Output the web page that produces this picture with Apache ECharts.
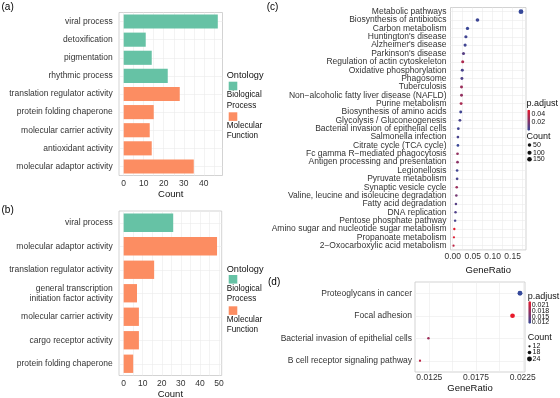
<!DOCTYPE html>
<html>
<head>
<meta charset="utf-8">
<script src="https://cdn.jsdelivr.net/npm/echarts@6/dist/echarts.min.js"></script>
<style>
html, body { margin: 0; padding: 0; background: #fff; }
#main { width: 560px; height: 398px; }
</style>
</head>
<body>
<div id="main"></div>
<script>
// (a) GO terms, counts and ontology
var termsA = ['viral process', 'detoxification', 'pigmentation', 'rhythmic process',
  'translation regulator activity', 'protein folding chaperone', 'molecular carrier activity',
  'antioxidant activity', 'molecular adaptor activity']
var countsA = [47, 11, 14, 22, 28, 15, 13, 14, 35]
var ontologyA = ['BP', 'BP', 'BP', 'BP', 'MF', 'MF', 'MF', 'MF', 'MF']
var labelsA = [0, 10, 20, 30, 40]
var ticksA = [0, 5, 10, 15, 20, 25, 30, 35, 40, 45]

// (b)
var termsB = ['viral process', 'molecular adaptor activity', 'translation regulator activity',
  'general transcription\ninitiation factor activity', 'molecular carrier activity',
  'cargo receptor activity', 'protein folding chaperone']
var countsB = [26, 49, 16, 7, 8, 8, 5]
var ontologyB = ['BP', 'MF', 'MF', 'MF', 'MF', 'MF', 'MF']
var labelsB = [0, 10, 20, 30, 40, 50]
var ticksB = [0, 5, 10, 15, 20, 25, 30, 35, 40, 45, 50]

// (c) KEGG pathways
var keggTerms = ['Metabolic pathways', 'Biosynthesis of antibiotics', 'Carbon metabolism',
  "Huntington's disease", "Alzheimer's disease", "Parkinson's disease",
  'Regulation of actin cytoskeleton', 'Oxidative phosphorylation', 'Phagosome', 'Tuberculosis',
  'Non\u2212alcoholic fatty liver disease (NAFLD)', 'Purine metabolism',
  'Biosynthesis of amino acids', 'Glycolysis / Gluconeogenesis',
  'Bacterial invasion of epithelial cells', 'Salmonella infection', 'Citrate cycle (TCA cycle)',
  'Fc gamma R\u2212mediated phagocytosis', 'Antigen processing and presentation', 'Legionellosis',
  'Pyruvate metabolism', 'Synaptic vesicle cycle', 'Valine, leucine and isoleucine degradation',
  'Fatty acid degradation', 'DNA replication', 'Pentose phosphate pathway',
  'Amino sugar and nucleotide sugar metabolism', 'Propanoate metabolism',
  '2\u2212Oxocarboxylic acid metabolism']
var keggRatio = [0.171, 0.062, 0.037, 0.033, 0.031, 0.027, 0.025, 0.024, 0.023, 0.022,
  0.022, 0.021, 0.020, 0.018, 0.014, 0.013, 0.013, 0.012, 0.012, 0.011,
  0.011, 0.010, 0.009, 0.008, 0.007, 0.006, 0.004, 0.003, 0.002]
var keggCount = [171, 62, 37, 33, 31, 27, 25, 24, 23, 22, 22, 21, 20, 18, 14, 13, 13, 12, 12, 11,
  11, 10, 9, 8, 7, 6, 4, 3, 2]
var keggPadj = [0.003, 0.005, 0.004, 0.006, 0.006, 0.012, 0.035, 0.008, 0.010, 0.030,
  0.028, 0.034, 0.006, 0.008, 0.006, 0.008, 0.004, 0.028, 0.026, 0.006,
  0.008, 0.030, 0.020, 0.012, 0.010, 0.008, 0.050, 0.048, 0.040]
var labelsC = [0, 0.05, 0.10, 0.15]
var ticksC = [0, 0.025, 0.05, 0.075, 0.10, 0.125, 0.15, 0.175]

// (d)
var termsD = ['Proteoglycans in cancer', 'Focal adhesion', 'Bacterial invasion of epithelial cells',
  'B cell receptor signaling pathway']
var ratioD = [0.0222, 0.0214, 0.0124, 0.0115]
var countD = [24, 23, 13, 12]
var padjD = [0.0113, 0.0227, 0.0180, 0.0200]
var labelsD = [0.0125, 0.0175, 0.0225]
var ticksD = [0.0125, 0.015, 0.0175, 0.02, 0.0225]

var FONT = "'Liberation Sans', Arial, sans-serif"
var LABEL = '#333333', INK = '#111111', GRID = '#ebebeb', BORDER = '#c8c8c8'
var BP = 'Biological Process', MF = 'Molecular Function'
var GREEN = '#66C2A5', ORANGE = '#FC8D62', LOW = '#34489A', HIGH = '#E8192A'

// dot diameter from gene count
var sizeC = c => 1.9 + 2.9 * Math.sqrt(c / 171)
var sizeD = c => 1.4 + 0.22 * (c - 8)

function grid(left, top, width, height) {
  return {left: left, top: top, width: width, height: height, show: true, borderColor: BORDER,
    borderWidth: 0.8, backgroundColor: '#fff', containLabel: false, outerBoundsMode: 'none'}
}
function valueAxis(gi, min, max, labels, ticks, fmt, margin, name, nameGap) {
  return {gridIndex: gi, type: 'value', min: min, max: max, name: name, nameLocation: 'middle',
    nameGap: nameGap, nameTextStyle: {fontSize: 9.5, color: INK, fontFamily: FONT},
    axisLine: {show: false}, axisTick: {show: false, customValues: ticks},
    axisLabel: {customValues: labels, formatter: fmt, fontSize: 8.5, color: LABEL, fontFamily: FONT, margin: margin},
    splitLine: {show: true, lineStyle: {color: GRID, width: 0.6}}}
}
function catAxis(gi, data, margin) {
  return {gridIndex: gi, type: 'category', data: data, inverse: true,
    axisLine: {show: false}, axisTick: {show: false, alignWithLabel: true},
    axisLabel: {interval: 0, fontSize: 8.5, color: LABEL, fontFamily: FONT, margin: margin, lineHeight: 10},
    splitLine: {show: true, alignWithLabel: true, lineStyle: {color: GRID, width: 0.6}}}
}
function bars(gi, counts, onto, key, name, color) {
  return {type: 'bar', name: name, xAxisIndex: gi, yAxisIndex: gi, stack: 'g' + gi, barWidth: '78%',
    itemStyle: {color: color}, data: counts.map((v, i) => onto[i] === key ? v : '-')}
}
function txt(x, y, text, size, extra) {
  return {type: 'text', x: x, y: y, silent: true,
    style: Object.assign({text: text, fontSize: size, fontFamily: FONT, fill: INK,
      align: 'left', verticalAlign: 'middle'}, extra || {})}
}
function dot(x, y, d) {
  return {type: 'circle', silent: true, shape: {cx: x, cy: y, r: d / 2}, style: {fill: '#111'}}
}
function legendBox(top, gap) {
  return {left: 228.7, top: top, orient: 'vertical', padding: 0, itemWidth: 8.6, itemHeight: 8.6,
    itemGap: gap, icon: 'rect', selectedMode: false, data: [BP, MF], formatter: () => '',
    textStyle: {fontSize: 1}}
}

var chart = echarts.init(document.getElementById('main'))
var options = {
  animation: false,
  backgroundColor: '#fff',
  textStyle: {fontFamily: FONT},
  grid: [grid(119, 12.5, 103.5, 163), grid(119, 211, 102.7, 164.5),
    grid(450.5, 7.5, 75.5, 242.4), grid(415, 282, 110, 90)],
  xAxis: [
    valueAxis(0, -2.35, 49.35, labelsA, ticksA, v => String(v), 4, 'Count', 13.7),
    valueAxis(1, -2.45, 51.45, labelsB, ticksB, v => String(v), 3.5, 'Count', 13.7),
    valueAxis(2, -0.0056, 0.1836, labelsC, ticksC, v => v.toFixed(2), 2, 'GeneRatio', 12),
    valueAxis(3, 0.010965, 0.022735, labelsD, ticksD, v => v.toFixed(4), 1, 'GeneRatio', 11)
  ],
  yAxis: [catAxis(0, termsA, 6.3), catAxis(1, termsB, 6.3), catAxis(2, keggTerms, 4), catAxis(3, termsD, 3)],
  legend: [legendBox(81.7, 22), legendBox(275, 22.7)],
  visualMap: [
    {type: 'continuous', seriesIndex: 4, dimension: 3, min: 0.0025, max: 0.051, calculable: false,
      inRange: {color: [LOW, HIGH]}, left: 527.3, top: 109.7, itemWidth: 2.8, itemHeight: 21, padding: 0},
    {type: 'continuous', seriesIndex: 5, dimension: 3, min: 0.0113, max: 0.0227, calculable: false,
      inRange: {color: [LOW, HIGH]}, left: 528.3, top: 301.3, itemWidth: 2.8, itemHeight: 22.4, padding: 0}
  ],
  series: [
    bars(0, countsA, ontologyA, 'BP', BP, GREEN),
    bars(0, countsA, ontologyA, 'MF', MF, ORANGE),
    bars(1, countsB, ontologyB, 'BP', BP, GREEN),
    bars(1, countsB, ontologyB, 'MF', MF, ORANGE),
    {type: 'scatter', xAxisIndex: 2, yAxisIndex: 2, symbolSize: v => sizeC(v[2]),
      itemStyle: {opacity: 1}, emphasis: {disabled: true},
      data: keggTerms.map((t, i) => [keggRatio[i], t, keggCount[i], keggPadj[i]])},
    {type: 'scatter', xAxisIndex: 3, yAxisIndex: 3, symbolSize: v => sizeD(v[2]),
      itemStyle: {opacity: 1}, emphasis: {disabled: true},
      data: termsD.map((t, i) => [ratioD[i], t, countD[i], padjD[i]])}
  ],
  graphic: [
    txt(1.5, 7, '(a)', 10, {fill: '#000'}),
    txt(1.5, 210.5, '(b)', 10, {fill: '#000'}),
    txt(266.7, 7, '(c)', 10, {fill: '#000'}),
    txt(268, 282, '(d)', 10, {fill: '#000'}),
    // ontology legends
    txt(226.7, 75.7, 'Ontology', 9.2),
    txt(226.7, 100.2, 'Biological\nProcess', 8.2, {lineHeight: 10.3}),
    txt(226.7, 131, 'Molecular\nFunction', 8.2, {lineHeight: 10.3}),
    txt(226.7, 269, 'Ontology', 9.2),
    txt(226.7, 294, 'Biological\nProcess', 8.2, {lineHeight: 10.3}),
    txt(226.7, 324.4, 'Molecular\nFunction', 8.2, {lineHeight: 10.3}),
    // (c) legends
    txt(526.5, 103.7, 'p.adjust', 9),
    txt(531.5, 114, '0.04', 7),
    txt(531.5, 122.5, '0.02', 7),
    txt(526.5, 137, 'Count', 9),
    dot(529.5, 145, sizeC(50)), txt(533, 145, '50', 7),
    dot(529.5, 152.7, sizeC(100)), txt(533, 152.7, '100', 7),
    dot(529.5, 159.3, sizeC(150)), txt(533, 159.3, '150', 7),
    // (d) legends
    txt(527.7, 296.3, 'p.adjust', 9),
    txt(531.7, 304.7, '0.021', 7),
    txt(531.7, 311, '0.018', 7),
    txt(531.7, 316.6, '0.015', 7),
    txt(531.7, 322.3, '0.012', 7),
    txt(527.7, 337.3, 'Count', 9),
    dot(529.5, 346.3, sizeD(12)), txt(532.5, 346.3, '12', 7),
    dot(529.5, 352.5, sizeD(18)), txt(532.5, 352.5, '18', 7),
    dot(529.5, 359, sizeD(24)), txt(532.5, 359, '24', 7)
  ]
}
chart.setOption(options)
</script>
</body>
</html>
